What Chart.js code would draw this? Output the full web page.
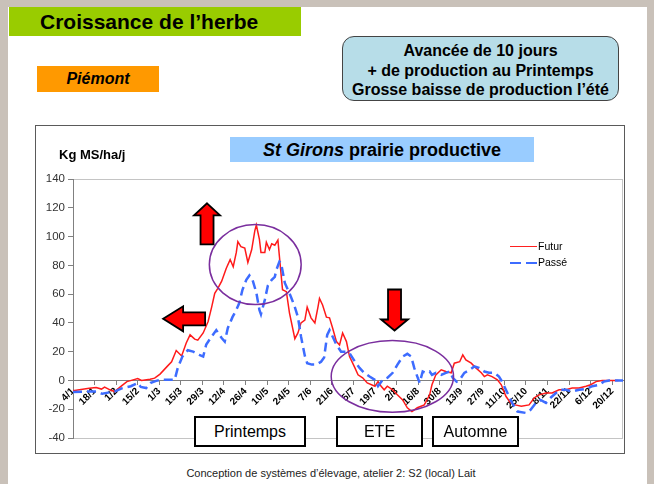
<!DOCTYPE html>
<html>
<head>
<meta charset="utf-8">
<script src="https://cdn.jsdelivr.net/npm/chart.js@4.4.0/dist/chart.umd.min.js"></script>
<style>
  body { margin: 0; width: 654px; height: 484px; background: #c9c1b9; position: relative; overflow: hidden;
         font-family: "Liberation Sans", Arial, sans-serif; color: #000; }
  .abs { position: absolute; }
  #slide { left: 8px; top: 7px; width: 639px; height: 477px; background: #fff; }
  #title { left: 9px; top: 7px; width: 292px; height: 29px; background: #99cc00; font-weight: bold;
           font-size: 21px; line-height: 30px; padding-left: 31px; box-sizing: border-box; }
  #zone { left: 37px; top: 66px; width: 122px; height: 26px; background: #ff9900; font-weight: bold;
          font-style: italic; font-size: 16px; line-height: 26px; text-align: center; }
  #note { left: 342px; top: 36px; width: 277px; height: 65px; box-sizing: border-box; border: 1px solid #444;
          border-radius: 12px; background: #b7dde8; font-weight: bold; font-size: 16px; line-height: 19.5px;
          text-align: center; padding-top: 4px; }
  #frame { left: 35px; top: 125px; width: 588px; height: 327px; border: 1px solid #5a5a5a; background: #fff; }
  #frame canvas { position: absolute; left: 0; top: 0; }
  #chartTitle { left: 230px; top: 137px; width: 304px; height: 25px; background: #99ccff; font-weight: bold;
                font-size: 18px; line-height: 26px; text-align: center; }
  #unit { left: 59px; top: 147px; font-weight: bold; font-size: 13px; }
  .season { top: 416px; height: 31px; box-sizing: border-box; border: 2px solid #000; background: #fff;
            font-size: 16px; line-height: 28px; text-align: center; }
  .leg { font-size: 10.5px; }
  #footer { left: 0; top: 467px; width: 662px; text-align: center; font-size: 11px; color: #222; }
</style>
</head>
<body>
<div id="slide" class="abs"></div>
<div id="title" class="abs">Croissance de l’herbe</div>
<div id="zone" class="abs">Piémont</div>
<div id="note" class="abs">Avancée de 10 jours<br>+ de production au Printemps<br>Grosse baisse de production l’été</div>
<div id="frame" class="abs"><canvas id="c" width="588" height="327"></canvas></div>
<div id="chartTitle" class="abs"><i>St Girons</i> prairie productive</div>
<div id="unit" class="abs">Kg MS/ha/j</div>
<div class="abs" style="left:510px;top:246px;width:27px;border-top:1.5px solid #ff2020"></div>
<div class="abs leg" style="left:538px;top:240px">Futur</div>
<div class="abs" style="left:510px;top:262px;width:11px;border-top:2.5px solid #3d6cff"></div>
<div class="abs" style="left:526px;top:262px;width:11px;border-top:2.5px solid #3d6cff"></div>
<div class="abs leg" style="left:538px;top:256px">Passé</div>
<div class="abs season" style="left:194px;width:112px">Printemps</div>
<div class="abs season" style="left:336px;width:87px">ETE</div>
<div class="abs season" style="left:432px;width:87px">Automne</div>
<div id="footer" class="abs">Conception de systèmes d’élevage, atelier 2: S2 (local) Lait</div>

<script>
// x tick labels, one every 14 days from 4/1
const tickLabels = ['4/1','18/1','1/2','15/2','1/3','15/3','29/3','12/4','26/4','10/5','24/5','7/6','21/6',
  '5/7','19/7','2/8','16/8','30/8','13/9','27/9','11/10','25/10','8/11','22/11','6/12','20/12'];

// Futur : days after 4/1 and growth (kg MS/ha/j)
const futurDay = [0,1,10.5,15,18.5,20.5,24,27,31.5,35,39,42,44.5,50,53,56.5,61,64,67,70.5,73.5,76,79,81,
  84.5,87.7,90,92,94,96.5,99.5,102,104,106,107,109,111.5,113.5,116,118,119,121,122,124.5,125.5,127.5,
  129,131,133,134,136,138.5,140.5,144,146,148,150.5,152,154.5,157,159,160,162,164.5,166.5,168.5,171,
  173,175,177.5,179.5,183,185,188,191,196,198,200,202,204,207.5,210.5,214,217,220,223.5,228,231.5,233,
  235.5,239,242,245.5,247.5,251,253,255,258.5,261.5,265,267,269,272,275.5,278,281,284,287,291,296,
  299.5,302.5,307,311,315.5,320,324,328.5,333,336,339.5,343.5,348,354];
const futurKg = [-7,-7,-5.4,-4.9,-6,-4.6,-6.5,-7.7,-3.8,-0.8,0.4,1.3,0,0.9,1.6,4.4,9.6,13,20.8,17,26,31.7,
  28.7,28,33,41,51,60.6,64,69,78,84,79,89,96.5,93,92,82,91,104,108,98,89,89,96,91,95,94,97.5,86,63,61.7,
  47,29,33,40,42,51,43.5,40,51,57,52.5,44,43.5,36.5,27,24.7,33,27,16.6,8.7,3.9,1.8,-1.7,-4,-0.8,-4,-6.5,
  -4,-6.5,-10,-13.5,-19,-21.6,-19,-17,-10,-3,3.9,7.4,6.2,5.3,12,13,17.8,14.3,12,8.7,5.3,2.7,3.9,2.7,0.4,
  -3,-11,-15.6,-17,-18,-17,-12,-10,-8.7,-8.7,-6.5,-6.5,-5.3,-5.3,-4,-3,-0.8,0,0,0];

// Passé
const passeDay = [0,8.5,15,19,25,27,32,37.5,42,44,47.5,50.5,54,58,63,66,68,71,74.5,78,82,84.5,86.5,90,93,
  96.5,98.5,100.5,103.5,106,108,110,112.5,114.5,116.5,119,121,122,124.5,126.5,129,131,132,134,135,137.5,
  139.5,141.5,144,146,148,150.5,152,155,158,161,163,165,166.5,168.5,171,174,177.5,179.5,183,186,189,
  192.5,196,198,201,204,207.5,210.5,214,217,219.5,221.5,223.5,225,227,229,231.5,233,235.5,239,242,244.5,
  246.5,249,251,254,257.5,260.5,263.5,267,270,273.5,276.5,278.5,282,285,288.5,294,297,300.5,303.5,307,
  310,313.5,316.5,320,324,328.5,333,337,341.5,344.5,348,357];
const passeKg = [-8,-7.7,-7.7,-9.3,-8,-7.7,-5.4,-4,-1.7,-4.5,-5.3,-1.7,-0.3,0.6,0.4,0.4,8.7,16.6,21,20,17.8,
  16.6,25,30.5,35,29.5,27,36.5,44,49,54,63,70,73,70,61,49,46,56,66,70,72,76.8,82.6,81.7,67.8,63,58,51,44,
  30.5,17,12,11,11,13,16,31.7,35,30.5,24.7,20,20,19,13,8.7,5.3,2.7,0.4,-4,0.4,1.8,5.3,10.8,16.6,18.5,16.6,
  8.7,2.7,-1.7,6.2,5.3,6.2,3.9,5.3,3.9,5.3,6.2,1.8,-0.8,0.4,5.3,7.4,9.7,8.7,6.2,5.3,5.3,2.7,-0.8,-8.7,
  -15.6,-21.6,-22.6,-20.4,-15.6,-13.5,-15.6,-12,-8.7,-6.5,-6.5,-7.7,-6.5,-6,-4,-3,-0.8,0,0];

// ellipses and arrows drawn over the plot (day, kg)
const circles = [
  { day: 118.3, kg: 80.5, rDay: 29.8, rKg: 27.8 },
  { day: 207.3, kg: 2.8, rDay: 39.7, rKg: 24.9 }
];
const arrows = [
  { day: 87.0, kg: 123.1, dir: 'up', len: 41, head: 12, headW: 26, shaftW: 13 },
  { day: 58.5, kg: 42.8, dir: 'left', len: 42, head: 20, headW: 25, shaftW: 13 },
  { day: 208.7, kg: 34.7, dir: 'down', len: 41, head: 11, headW: 27, shaftW: 13 }
];

const toPoints = (days, vals) => days.map((d, i) => ({ x: d, y: vals[i] }));

// light frame around the plot area
const plotFrame = {
  id: 'plotFrame',
  beforeDraw(chart) {
    const { ctx, chartArea: a } = chart;
    ctx.save();
    ctx.strokeStyle = '#c4c4c4';
    ctx.lineWidth = 1;
    ctx.strokeRect(a.left + 0.5, a.top + 0.5, a.right - a.left - 1, a.bottom - a.top);
    ctx.restore();
  }
};

const overlays = {
  id: 'overlays',
  afterDatasetsDraw(chart) {
    const { ctx, scales: { x, y } } = chart;
    ctx.save();
    ctx.strokeStyle = '#7a2e9e';
    ctx.lineWidth = 1.5;
    circles.forEach(c => {
      const cx = x.getPixelForValue(c.day), cy = y.getPixelForValue(c.kg);
      const rx = x.getPixelForValue(c.day + c.rDay) - cx;
      const ry = cy - y.getPixelForValue(c.kg + c.rKg);
      ctx.beginPath();
      ctx.ellipse(cx, cy, rx, ry, 0, 0, Math.PI * 2);
      ctx.stroke();
    });
    const rot = { up: 0, down: Math.PI, left: -Math.PI / 2 };
    arrows.forEach(a => {
      ctx.save();
      ctx.translate(x.getPixelForValue(a.day), y.getPixelForValue(a.kg));
      ctx.rotate(rot[a.dir]);
      ctx.beginPath();
      ctx.moveTo(0, 0);
      ctx.lineTo(a.headW / 2, a.head);
      ctx.lineTo(a.shaftW / 2, a.head);
      ctx.lineTo(a.shaftW / 2, a.len);
      ctx.lineTo(-a.shaftW / 2, a.len);
      ctx.lineTo(-a.shaftW / 2, a.head);
      ctx.lineTo(-a.headW / 2, a.head);
      ctx.closePath();
      ctx.fillStyle = '#ff0000';
      ctx.fill();
      ctx.strokeStyle = '#000';
      ctx.lineWidth = 1.8;
      ctx.stroke();
      ctx.restore();
    });
    ctx.restore();
  }
};

new Chart(document.getElementById('c'), {
  type: 'line',
  data: {
    datasets: [{
      label: 'Futur',
      data: toPoints(futurDay, futurKg),
      borderColor: '#ff1a1a',
      borderWidth: 1.5,
      pointRadius: 0,
      tension: 0,
      order: 2
    }, {
      label: 'Passé',
      data: toPoints(passeDay, passeKg),
      borderColor: '#3d6cff',
      borderWidth: 2.5,
      borderDash: [9, 5],
      pointRadius: 0,
      tension: 0,
      order: 1
    }]
  },
  options: {
    responsive: false,
    animation: false,
    events: [],
    layout: { padding: { top: 53, right: 1, bottom: 15, left: 0 } },
    plugins: { legend: { display: false }, tooltip: { enabled: false } },
    scales: {
      x: {
        type: 'linear',
        min: 0,
        max: 357,
        position: { y: 0 },
        afterBuildTicks: s => { s.ticks = tickLabels.map((_, i) => ({ value: i * 14 })); },
        ticks: {
          autoSkip: false,
          minRotation: 45,
          maxRotation: 45,
          padding: 1,
          color: '#000',
          font: { family: 'Liberation Sans', size: 10, weight: 'bold' },
          callback: (v, i) => tickLabels[i]
        },
        grid: { drawOnChartArea: false, tickLength: 4, color: '#808080' },
        border: { color: '#808080' }
      },
      y: {
        min: -40,
        max: 140,
        afterFit: s => { s.width = 37; },
        ticks: {
          stepSize: 20,
          padding: 3,
          color: '#333',
          font: { family: 'Liberation Sans', size: 11.5 }
        },
        grid: { drawOnChartArea: false, tickLength: 5, color: '#808080' },
        border: { color: '#808080' }
      }
    }
  },
  plugins: [plotFrame, overlays]
});
</script>
</body>
</html>
